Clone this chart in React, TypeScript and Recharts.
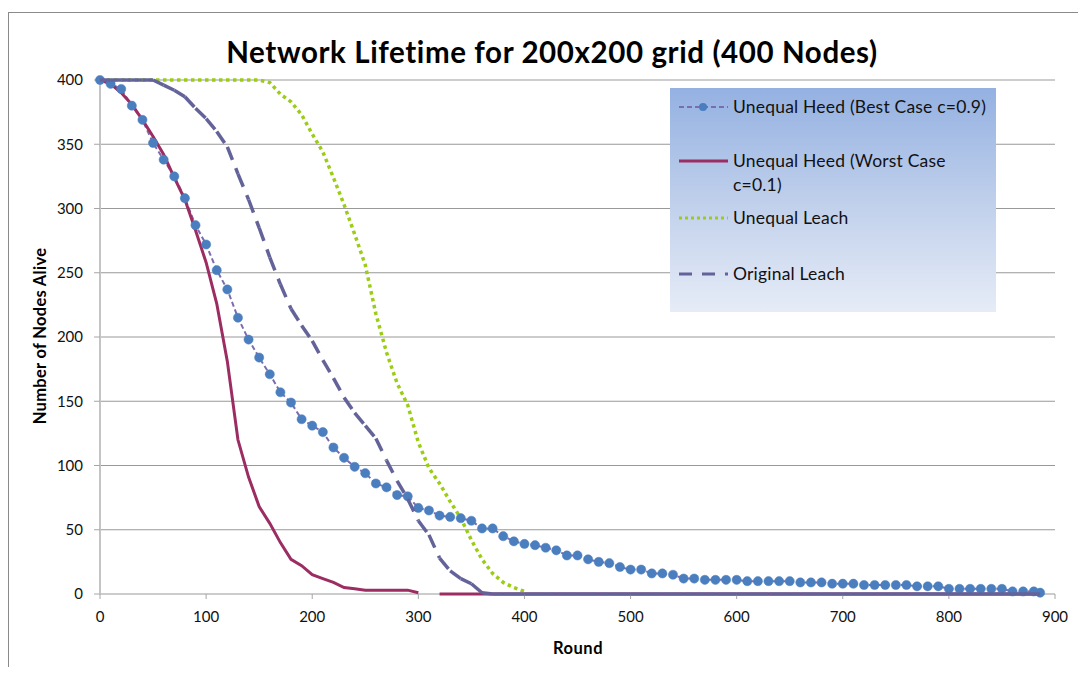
import React from 'react';
import { LineChart, Line, XAxis, YAxis, CartesianGrid, Legend } from 'recharts';

// rounds sampled every 10, last sample at 886
const rounds = [
  0, 10, 20, 30, 40, 50, 60, 70, 80, 90,
  100, 110, 120, 130, 140, 150, 160, 170, 180, 190,
  200, 210, 220, 230, 240, 250, 260, 270, 280, 290,
  300, 310, 320, 330, 340, 350, 360, 370, 380, 390,
  400, 410, 420, 430, 440, 450, 460, 470, 480, 490,
  500, 510, 520, 530, 540, 550, 560, 570, 580, 590,
  600, 610, 620, 630, 640, 650, 660, 670, 680, 690,
  700, 710, 720, 730, 740, 750, 760, 770, 780, 790,
  800, 810, 820, 830, 840, 850, 860, 870, 880, 886,
];

const bestCase = [
  400, 397, 393, 380, 369, 351, 338, 325, 308, 287,
  272, 252, 237, 215, 198, 184, 171, 157, 149, 136,
  131, 126, 114, 106, 99, 94, 86, 83, 77, 76,
  67, 65, 61, 60, 59, 57, 51, 51, 45, 41,
  39, 38, 36, 34, 30, 30, 27, 25, 24, 21,
  19, 19, 16, 16, 15, 12, 12, 11, 11, 11,
  11, 10, 10, 10, 10, 10, 9, 9, 9, 8,
  8, 8, 7, 7, 7, 7, 7, 6, 6, 6,
  4, 4, 4, 4, 4, 4, 2, 2, 2, 1,
];

const worstCase = [
  400, 397, 390, 381, 369, 356, 342, 324, 307, 283,
  258, 226, 181, 120, 91, 68, 55, 40, 27, 22,
  15, 12, 9, 5, 4, 3, 3, 3, 3, 3,
  1, null, 0, 0, 0, 0, 0, 0, 0, 0,
  0, 0, 0, 0, 0, 0, 0, 0, 0, 0,
  0, 0, 0, 0, 0, 0, 0, 0, 0, 0,
  0, 0, 0, 0, 0, 0, 0, 0, 0, 0,
  0, 0, 0, 0, 0, 0, 0, 0, 0, 0,
  0, 0, 0, 0, 0, 0, 0, 0, 0, 0,
];

const unequalLeach = [
  400, 400, 400, 400, 400, 400, 400, 400, 400, 400,
  400, 400, 400, 400, 400, 400, 398, 389, 383, 373,
  358, 344, 324, 303, 280, 256, 218, 188, 164, 147,
  118, 98, 86, 72, 59, 42, 27, 16, 9, 5,
  2,
];

const originalLeach = [
  400, 400, 400, 400, 400, 400, 396, 392, 387, 378,
  370, 360, 348, 327, 307, 285, 262, 241, 222, 209,
  197, 182, 168, 153, 141, 131, 121, 104, 88, 74,
  57, 46, 28, 18, 12, 8, 1, 0, 0, 0,
  0, 0, 0, 0, 0, 0, 0, 0, 0, 0,
  0, 0, 0, 0, 0, 0, 0, 0, 0, 0,
  0, 0, 0, 0, 0, 0, 0, 0, 0, 0,
  0, 0, 0, 0, 0, 0, 0, 0, 0, 0,
  0, 0, 0, 0, 0, 0, 0, 0, 0, 0,
];

const xTicks = [0, 100, 200, 300, 400, 500, 600, 700, 800, 900];
const yTicks = [0, 50, 100, 150, 200, 250, 300, 350, 400];

const data = rounds.map((round, i) => ({
  round,
  best: bestCase[i],
  worst: worstCase[i],
  uleach: unequalLeach[i],
  oleach: originalLeach[i],
}));

const FONT = 'Lato, "Open Sans", sans-serif';

const BLUE = '#4a7ebf';
const BEST_LINE = '#7b6cae';
const WORST = '#9c2d62';
const GREEN = '#9acd14';
const PURPLE = '#63639a';

// Excel restarts the dash pattern on every segment, so short flat
// segments look solid. Draw each segment from the previous point.
const segmentDot = (stroke: string, width: number, dash: string) => (props: any) => {
  const { cx, cy, index, points } = props;
  const prev = points && index > 0 ? points[index - 1] : null;
  if (!prev || prev.y == null || cy == null) return <g key={`seg-${index}`} />;
  return (
    <line
      key={`seg-${index}`}
      x1={prev.x}
      y1={prev.y}
      x2={cx}
      y2={cy}
      stroke={stroke}
      strokeWidth={width}
      strokeDasharray={dash}
    />
  );
};

const renderLegend = () => {
  const row = (y: number, sample: React.ReactNode, lines: string[]) => (
    <div style={{ position: 'absolute', left: 0, top: y, width: 330 }}>
      <svg width={60} height={20} style={{ position: 'absolute', left: 6, top: -10 }}>
        {sample}
      </svg>
      {lines.map((t, k) => (
        <div
          key={k}
          style={{ position: 'absolute', left: 63, top: -12 + k * 24, whiteSpace: 'nowrap' }}
        >
          {t}
        </div>
      ))}
    </div>
  );
  return (
    <div
      style={{
        position: 'relative',
        width: 326,
        height: 224,
        background: 'linear-gradient(to bottom, #94b1e2 0%, #bfcfeb 50%, #e6ecf7 100%)',
        fontFamily: FONT,
        fontSize: 17.5,
        letterSpacing: 0.2,
        lineHeight: '24px',
        color: '#111',
      }}
    >
      {row(
        19,
        <g>
          <line x1={3} y1={10} x2={52} y2={10} stroke={BEST_LINE} strokeWidth={2} strokeDasharray="5 3" />
          <circle cx={27} cy={10} r={4} fill={BLUE} />
        </g>,
        ['Unequal Heed (Best Case c=0.9)']
      )}
      {row(
        73,
        <line x1={3} y1={10} x2={52} y2={10} stroke={WORST} strokeWidth={3} />,
        ['Unequal Heed (Worst Case', 'c=0.1)']
      )}
      {row(
        130,
        <line x1={3} y1={10} x2={52} y2={10} stroke={GREEN} strokeWidth={3} strokeDasharray="3 3" />,
        ['Unequal Leach']
      )}
      {row(
        186,
        <line x1={3} y1={10} x2={52} y2={10} stroke={PURPLE} strokeWidth={3} strokeDasharray="13 10" />,
        ['Original Leach']
      )}
    </div>
  );
};

export default function App() {
  return (
    <div
      style={{
        position: 'relative',
        width: 1086,
        height: 675,
        margin: -8,
        overflow: 'hidden',
        background: '#fff',
        fontFamily: FONT,
      }}
    >
      <div
        style={{
          position: 'absolute',
          left: 8,
          top: 12,
          width: 1200,
          height: 800,
          borderTop: '1.5px solid #8a8a8a',
          borderLeft: '1.5px solid #8a8a8a',
        }}
      />
      <div
        style={{
          position: 'absolute',
          left: 0,
          width: 1104,
          top: 33,
          textAlign: 'center',
          fontSize: 29.5,
          letterSpacing: 0.6,
          fontWeight: 700,
          color: '#000',
          lineHeight: '38px',
        }}
      >
        Network Lifetime for 200x200 grid (400 Nodes)
      </div>
      <div
        style={{
          position: 'absolute',
          left: 40,
          top: 336,
          transform: 'translate(-50%, -50%) rotate(-90deg)',
          whiteSpace: 'nowrap',
          fontSize: 16.5,
          letterSpacing: 0.3,
          fontWeight: 700,
        }}
      >
        Number of Nodes Alive
      </div>
      <div
        style={{
          position: 'absolute',
          left: 578,
          top: 648,
          transform: 'translate(-50%, -50%)',
          fontSize: 16.5,
          letterSpacing: 0.5,
          fontWeight: 700,
        }}
      >
        Round
      </div>
      <div style={{ position: 'absolute', left: 0, top: 0 }}>
        <LineChart
          width={1086}
          height={675}
          data={data}
          margin={{ top: 80, right: 31, bottom: 51, left: 40 }}
        >
          <CartesianGrid vertical={false} stroke="#999" strokeWidth={1.2} />
          <XAxis
            dataKey="round"
            type="number"
            domain={[0, 900]}
            ticks={xTicks}
            height={30}
            axisLine={false}
            tickLine={{ stroke: '#a6a6a6' }}
            tickSize={5}
            tickMargin={12}
            tick={{ fill: '#111', fontSize: 15, fontFamily: FONT }}
          />
          <YAxis
            type="number"
            domain={[0, 400]}
            ticks={yTicks}
            width={60}
            axisLine={{ stroke: '#c4c4c4', strokeWidth: 2 }}
            tickLine={{ stroke: '#a6a6a6' }}
            tickSize={6}
            tickMargin={11}
            tick={{ fill: '#111', fontSize: 15, fontFamily: FONT }}
          />
          <Legend
            layout="vertical"
            align="center"
            verticalAlign="middle"
            content={renderLegend}
            wrapperStyle={{ position: 'absolute', left: 670, top: 88, width: 326, height: 224 }}
          />
          <Line
            type="linear"
            dataKey="best"
            name="Unequal Heed (Best Case c=0.9)"
            stroke={BEST_LINE}
            strokeWidth={2}
            strokeDasharray="5 3"
            dot={{ r: 4.6, fill: BLUE, stroke: BLUE, strokeWidth: 0.5, strokeDasharray: 'none' }}
            isAnimationActive={false}
          />
          <Line
            type="linear"
            dataKey="worst"
            name="Unequal Heed (Worst Case c=0.1)"
            stroke={WORST}
            strokeWidth={3}
            dot={false}
            connectNulls={false}
            isAnimationActive={false}
          />
          <Line
            type="linear"
            dataKey="uleach"
            name="Unequal Leach"
            stroke={GREEN}
            strokeWidth={3.5}
            strokeDasharray="3.5 3.5"
            dot={false}
            isAnimationActive={false}
          />
          <Line
            type="linear"
            dataKey="oleach"
            name="Original Leach"
            stroke="none"
            strokeWidth={0}
            dot={segmentDot(PURPLE, 3.5, '14 9')}
            activeDot={false}
            isAnimationActive={false}
          />
        </LineChart>
      </div>
    </div>
  );
}
